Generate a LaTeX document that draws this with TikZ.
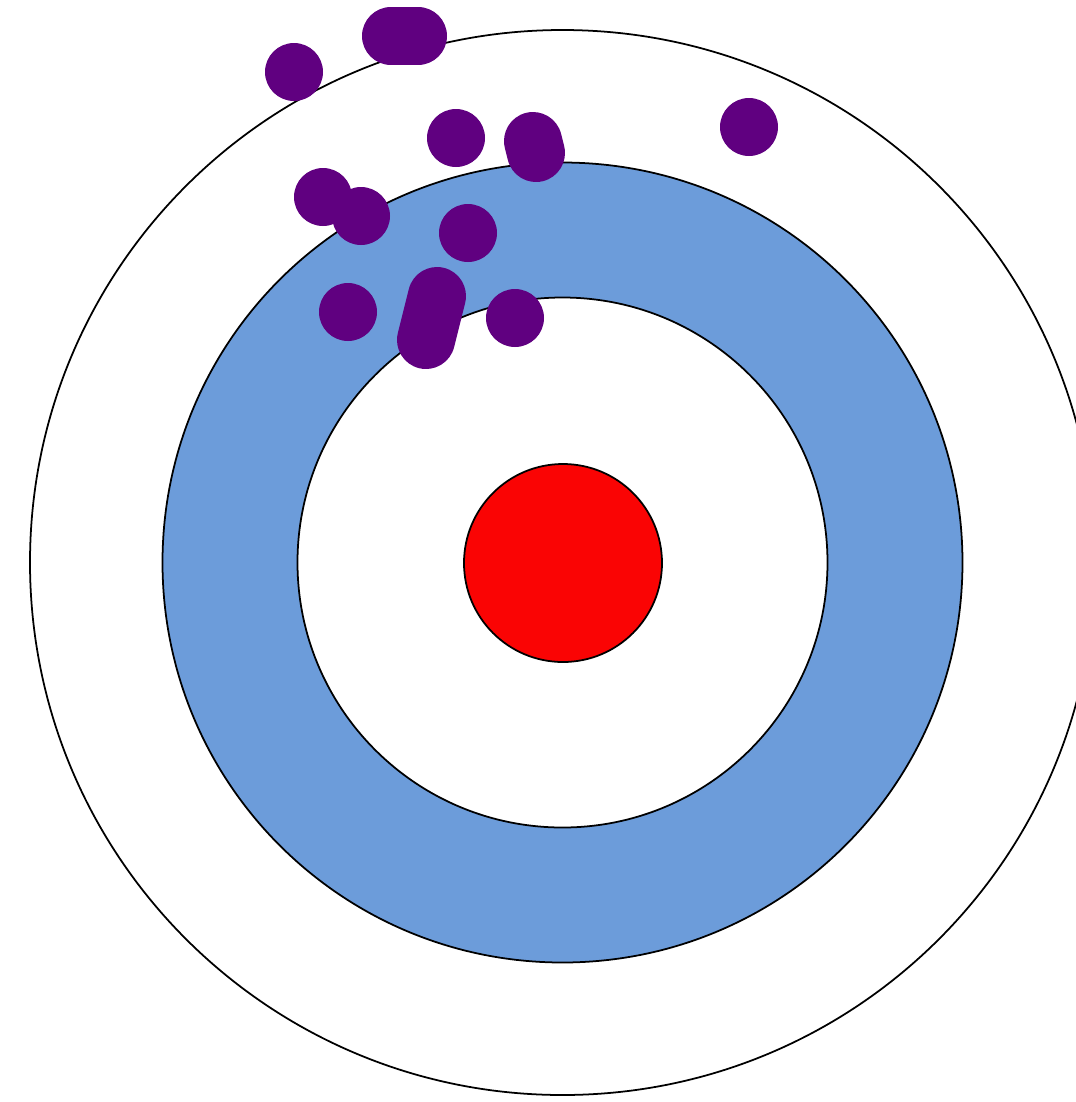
\documentclass[tikz,border=0pt]{standalone}
\usepackage{tikz}
\usepackage{xcolor}
\definecolor{ringblue}{RGB}{108,156,218}
\definecolor{bullred}{RGB}{250,4,4}
\definecolor{hitpurple}{RGB}{96,0,128}

\begin{document}
\begin{tikzpicture}[x=0.01cm,y=-0.01cm,ring/.style={draw=black,line width=0.5pt},hit/.style={fill=hitpurple}]
\useasboundingbox (0,0) rectangle (1076,1102);
\draw[ring,fill=white] (562.5,562.5) circle[radius=532.5];
\draw[ring,fill=ringblue] (562.5,562.5) circle[radius=400];
\draw[ring,fill=white] (562.5,562.5) circle[radius=265];
\draw[ring,fill=bullred] (563,563) circle[radius=99];
\foreach \x/\y in {294/72,749/127,456/138,323/197,361/216,468/233,348/312,515/318}
  \fill[hit] (\x,\y) circle[radius=29];
\draw[hitpurple,line width=58*0.01cm,line cap=round] (391,36) -- (418,36);
\draw[hitpurple,line width=58*0.01cm,line cap=round] (533,141) -- (536,153);
\draw[hitpurple,line width=58*0.01cm,line cap=round] (437,296) -- (426,340);
\end{tikzpicture}
\end{document}
